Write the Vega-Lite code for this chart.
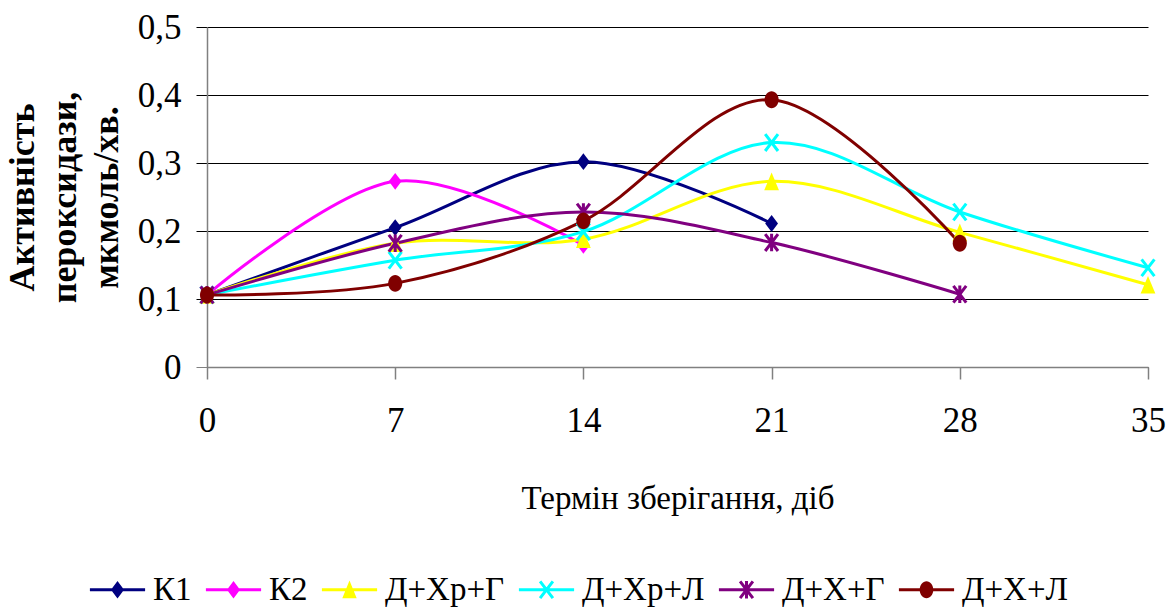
{
  "$schema": "https://vega.github.io/schema/vega-lite/v6.json",
  "width": 941,
  "height": 340,
  "autosize": {"type": "none"},
  "padding": {"left": 207, "top": 27, "right": 25, "bottom": 243},
  "background": "white",
  "config": {
    "font": "Liberation Serif",
    "view": {"stroke": null},
    "axis": {"labelFont": "Liberation Serif", "titleFont": "Liberation Serif", "labelColor": "black", "titleColor": "black"}
  },
  "data": {
    "values": [
      {"day": 0, "series": "К1", "value": 0.106},
      {"day": 7, "series": "К1", "value": 0.205},
      {"day": 14, "series": "К1", "value": 0.302},
      {"day": 21, "series": "К1", "value": 0.211},
      {"day": 0, "series": "К2", "value": 0.106},
      {"day": 7, "series": "К2", "value": 0.273},
      {"day": 14, "series": "К2", "value": 0.179},
      {"day": 0, "series": "Д+Хр+Г", "value": 0.106},
      {"day": 7, "series": "Д+Хр+Г", "value": 0.182},
      {"day": 14, "series": "Д+Хр+Г", "value": 0.188},
      {"day": 21, "series": "Д+Хр+Г", "value": 0.273},
      {"day": 28, "series": "Д+Хр+Г", "value": 0.198},
      {"day": 35, "series": "Д+Хр+Г", "value": 0.121},
      {"day": 0, "series": "Д+Хр+Л", "value": 0.106},
      {"day": 7, "series": "Д+Хр+Л", "value": 0.157},
      {"day": 14, "series": "Д+Хр+Л", "value": 0.199},
      {"day": 21, "series": "Д+Хр+Л", "value": 0.33},
      {"day": 28, "series": "Д+Хр+Л", "value": 0.228},
      {"day": 35, "series": "Д+Хр+Л", "value": 0.146},
      {"day": 0, "series": "Д+Х+Г", "value": 0.106},
      {"day": 7, "series": "Д+Х+Г", "value": 0.182},
      {"day": 14, "series": "Д+Х+Г", "value": 0.228},
      {"day": 21, "series": "Д+Х+Г", "value": 0.183},
      {"day": 28, "series": "Д+Х+Г", "value": 0.107},
      {"day": 0, "series": "Д+Х+Л", "value": 0.106},
      {"day": 7, "series": "Д+Х+Л", "value": 0.123},
      {"day": 14, "series": "Д+Х+Л", "value": 0.215},
      {"day": 21, "series": "Д+Х+Л", "value": 0.393},
      {"day": 28, "series": "Д+Х+Л", "value": 0.182}
    ]
  },
  "encoding": {
    "x": {
      "field": "day",
      "type": "quantitative",
      "scale": {"domain": [0, 35], "nice": false},
      "axis": {
        "values": [0, 7, 14, 21, 28, 35],
        "grid": false,
        "labelFlush": false,
        "domainColor": "#808080",
        "domainWidth": 1.5,
        "tickColor": "#808080",
        "tickWidth": 1.5,
        "tickSize": 12,
        "labelFontSize": 35,
        "labelPadding": 24,
        "title": "Термін зберігання, діб",
        "titleFontSize": 33,
        "titleFontWeight": "normal",
        "titleBaseline": "alphabetic",
        "titleY": 141
      }
    },
    "y": {
      "field": "value",
      "type": "quantitative",
      "scale": {"domain": [0, 0.5], "nice": false},
      "axis": {
        "values": [0, 0.1, 0.2, 0.3, 0.4, 0.5],
        "labelExpr": "datum.value == 0 ? '0' : replace(format(datum.value, '.1f'), '.', ',')",
        "grid": true,
        "gridColor": "black",
        "gridWidth": 1,
        "domainColor": "#808080",
        "domainWidth": 1.5,
        "tickColor": {"condition": {"test": "datum.value == 0", "value": "#808080"}, "value": "black"},
        "tickSize": 11,
        "labelFontSize": 35,
        "labelPadding": 15,
        "labelBaseline": "middle",
        "title": ["Активність", "пероксидази,", "мкмоль/хв."],
        "titleFontSize": 36,
        "titleFontWeight": "bold",
        "titleLineHeight": 42,
        "titleAngle": -90,
        "titleAlign": "center",
        "titleBaseline": "alphabetic",
        "titleX": -174,
        "titleY": 170
      }
    },
    "color": {
      "field": "series",
      "type": "nominal",
      "scale": {
        "domain": ["К1", "К2", "Д+Хр+Г", "Д+Хр+Л", "Д+Х+Г", "Д+Х+Л"],
        "range": ["#000080", "#FF00FF", "#FFFF00", "#00FFFF", "#800080", "#800000"]
      },
      "legend": {
        "orient": "none",
        "direction": "horizontal",
        "legendX": -117,
        "legendY": 546,
        "title": null,
        "labelFontSize": 33,
        "labelFont": "Liberation Serif",
        "labelColor": "black",
        "labelLimit": 300,
        "labelOffset": 19,
        "columnPadding": 13,
        "symbolSize": 256,
        "symbolStrokeWidth": 0,
        "symbolOpacity": 1,
        "symbolOffset": 11
      }
    }
  },
  "layer": [
    {
      "mark": {"type": "line", "interpolate": "cardinal", "strokeWidth": 3}
    },
    {
      "transform": [{"filter": "datum.series === 'К1' || datum.series === 'К2'"}],
      "mark": {"type": "point", "filled": true, "opacity": 1, "size": 256, "strokeWidth": 0, "shape": "M0,-1.05L0.8,0L0,1.05L-0.8,0Z"}
    },
    {
      "transform": [{"filter": "datum.series === 'Д+Хр+Г'"}],
      "mark": {"type": "point", "filled": true, "opacity": 1, "size": 256, "strokeWidth": 0, "shape": "M0,-1.1L0.92,1.1L-0.92,1.1Z"}
    },
    {
      "transform": [{"filter": "datum.series === 'Д+Хр+Л'"}],
      "mark": {"type": "point", "filled": true, "opacity": 1, "size": 256, "strokeWidth": 0, "shape": "M-0.649,-1.165L0.951,0.935L0.649,1.165L-0.951,-0.935ZM-0.951,0.935L0.649,-1.165L0.951,-0.935L-0.649,1.165Z"}
    },
    {
      "transform": [{"filter": "datum.series === 'Д+Х+Г'"}],
      "mark": {"type": "point", "filled": true, "opacity": 1, "size": 256, "strokeWidth": 0, "shape": "M-0.649,-1.165L0.951,0.935L0.649,1.165L-0.951,-0.935ZM-0.951,0.935L0.649,-1.165L0.951,-0.935L-0.649,1.165ZM0.19,-1.1L0.19,1.1L-0.19,1.1L-0.19,-1.1Z"}
    },
    {
      "transform": [{"filter": "datum.series === 'Д+Х+Л'"}],
      "mark": {"type": "point", "filled": true, "opacity": 1, "size": 256, "strokeWidth": 0, "shape": "M-0.88,0A0.88,1.05,0,1,1,0.88,0A0.88,1.05,0,1,1,-0.88,0Z"}
    },
    {
      "transform": [{"filter": "false"}],
      "mark": {"type": "point", "filled": true, "opacity": 1, "size": 256, "strokeWidth": 0},
      "encoding": {
        "shape": {
          "field": "series",
          "type": "nominal",
          "scale": {
            "domain": ["К1", "К2", "Д+Хр+Г", "Д+Хр+Л", "Д+Х+Г", "Д+Х+Л"],
            "range": [
              "M-3.45,-0.19L3.45,-0.19L3.45,0.19L-3.45,0.19ZM0,-1.1L0.82,0L0,1.1L-0.82,0Z",
              "M-3.45,-0.19L3.45,-0.19L3.45,0.19L-3.45,0.19ZM0,-1.1L0.82,0L0,1.1L-0.82,0Z",
              "M-3.45,-0.19L3.45,-0.19L3.45,0.19L-3.45,0.19ZM0,-1.15L0.9,1.05L-0.9,1.05Z",
              "M-3.45,-0.19L3.45,-0.19L3.45,0.19L-3.45,0.19ZM-0.649,-1.165L0.951,0.935L0.649,1.165L-0.951,-0.935ZM-0.951,0.935L0.649,-1.165L0.951,-0.935L-0.649,1.165Z",
              "M-3.45,-0.19L3.45,-0.19L3.45,0.19L-3.45,0.19ZM-0.649,-1.165L0.951,0.935L0.649,1.165L-0.951,-0.935ZM-0.951,0.935L0.649,-1.165L0.951,-0.935L-0.649,1.165ZM0.19,-1.1L0.19,1.1L-0.19,1.1L-0.19,-1.1Z",
              "M-3.45,-0.19L3.45,-0.19L3.45,0.19L-3.45,0.19ZM-0.85,0A0.85,1.05,0,1,1,0.85,0A0.85,1.05,0,1,1,-0.85,0Z"
            ]
          }
        }
      }
    }
  ]
}
